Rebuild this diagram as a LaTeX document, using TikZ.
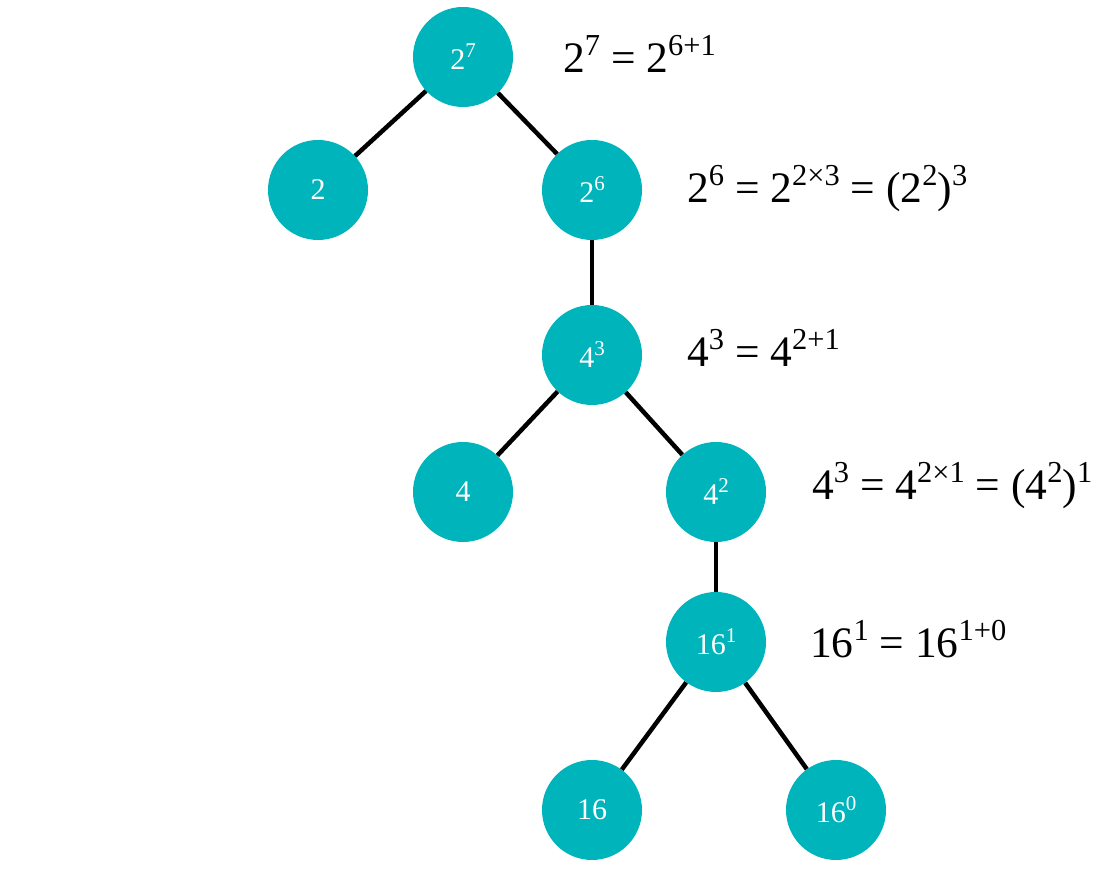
\documentclass[tikz,border=0pt]{standalone}
\usepackage{fontspec}
\setmainfont{Liberation Serif}
\usepackage{tikz}
\usetikzlibrary{positioning}
\usepackage{xcolor}
\definecolor{treeteal}{RGB}{0,180,188}
\tikzset{bigtealnode/.style={circle, fill=treeteal, draw=none, minimum size=100pt, inner sep=0pt, text=white, font=\fontsize{30}{32}\selectfont},
treeedge/.style={draw=black, line width=4.5pt},
eqlabel/.style={anchor=base west, inner sep=0pt, font=\fontsize{43.5}{48}\selectfont}}
\newcommand{\sps}[1]{\raisebox{0.4em}{\scalebox{0.7}{#1}}}
\newcommand{\pw}[2]{#1\sps{#2}}

\begin{document}
\begin{tikzpicture}
        \useasboundingbox (0pt, 0pt) rectangle (1095pt, 870pt);
        % Nodes
        \node[bigtealnode] (n27) at (463pt, 813pt) {\pw{2}{7}};
        \node[bigtealnode] (n2) at (318pt, 680pt) {2};
        \node[bigtealnode] (n26) at (592pt, 680pt) {\pw{2}{6}};
        \node[bigtealnode] (n43) at (592pt, 515pt) {\pw{4}{3}};
        \node[bigtealnode] (n4) at (463pt, 378pt) {4};
        \node[bigtealnode] (n42) at (716pt, 378pt) {\pw{4}{2}};
        \node[bigtealnode] (n161) at (716pt, 228pt) {\pw{16}{1}};
        \node[bigtealnode] (n16) at (592pt, 60pt) {16};
        \node[bigtealnode] (n160) at (836pt, 60pt) {\pw{16}{0}};
        % Edges
        \draw[treeedge] (n27) -- (n2);
        \draw[treeedge] (n27) -- (n26);
        \draw[treeedge] (n26) -- (n43);
        \draw[treeedge] (n43) -- (n4);
        \draw[treeedge] (n43) -- (n42);
        \draw[treeedge] (n42) -- (n161);
        \draw[treeedge] (n161) -- (n16);
        \draw[treeedge] (n161) -- (n160);
        % Labels
        \node[eqlabel] (eq27) at (563pt, 797pt) {\pw{2}{7} = \pw{2}{6+1}};
        \node[eqlabel] (eq26) at (687pt, 667pt) {\pw{2}{6} = \pw{2}{2×3} = (\pw{2}{2})\sps{3}};
        \node[eqlabel] (eq43) at (687pt, 503pt) {\pw{4}{3} = \pw{4}{2+1}};
        \node[eqlabel] (eq42) at (812pt, 370pt) {\pw{4}{3} = \pw{4}{2×1} = (\pw{4}{2})\sps{1}};
        \node[eqlabel] (eq161) at (810pt, 212pt) {\pw{16}{1} = \pw{16}{1+0}};
    \end{tikzpicture}
\end{document}
